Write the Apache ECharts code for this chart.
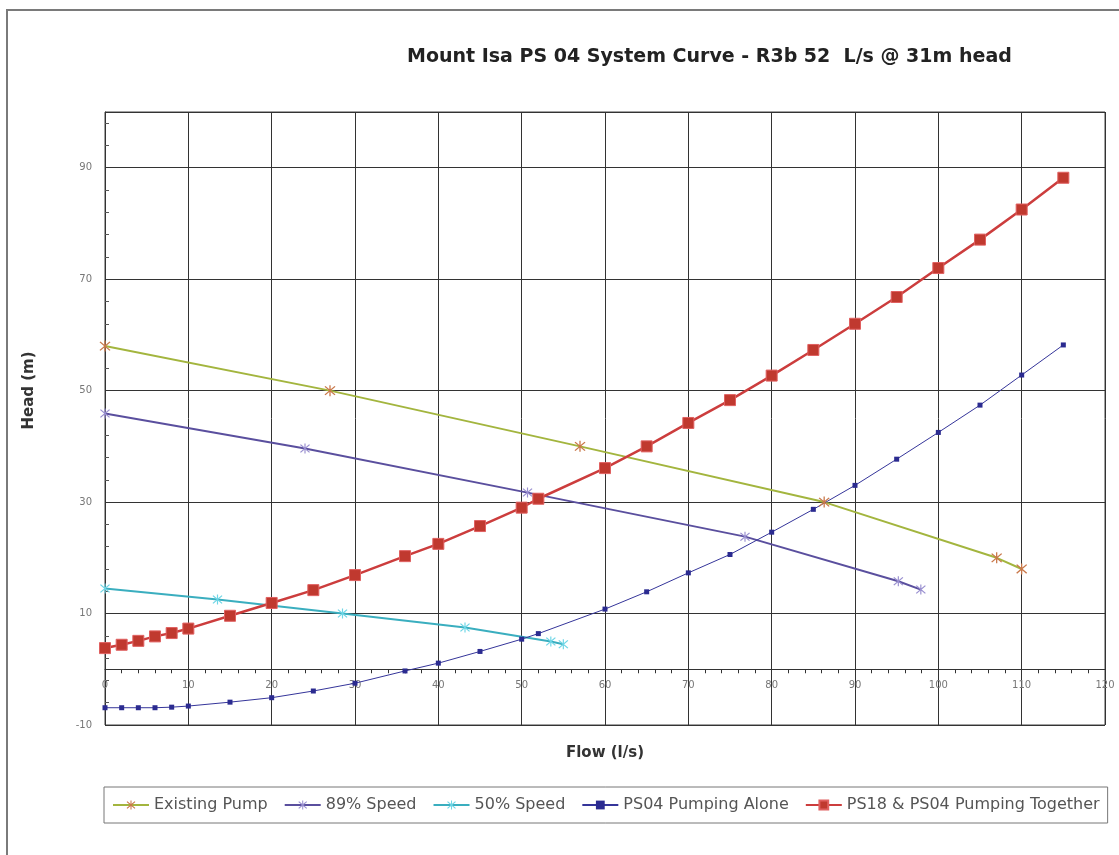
<!DOCTYPE html>
<html>
<head>
<meta charset="utf-8">
<script src="https://cdn.jsdelivr.net/npm/echarts@6/dist/echarts.min.js"></script>
<style>
html,body{margin:0;padding:0;background:#fff;}
#chart{width:1119px;height:855px;}
</style>
</head>
<body>
<div id="chart"></div>
<script>
// ---- data ----
const existingFlow = [0, 27, 57, 86.3, 107, 110];
const existingHead = [58, 50, 40, 30, 20, 18];
const speed89Flow = [0, 24, 50.7, 76.8, 95.2, 97.9];
const speed89Head = [45.9, 39.6, 31.7, 23.8, 15.8, 14.3];
const speed50Flow = [0, 13.5, 28.5, 43.2, 53.5, 55];
const speed50Head = [14.5, 12.5, 10, 7.5, 5, 4.5];
const systemFlow = [0, 2, 4, 6, 8, 10, 15, 20, 25, 30, 36, 40, 45, 50, 52, 60, 65, 70, 75, 80, 85, 90, 95, 100, 105, 110, 115];
const aloneHead = [-6.9, -6.9, -6.9, -6.9, -6.8, -6.6, -5.9, -5.1, -3.9, -2.5, -0.3, 1.1, 3.2, 5.4, 6.4, 10.8, 13.9, 17.3, 20.6, 24.6, 28.7, 33.0, 37.7, 42.5, 47.4, 52.8, 58.2];
const togetherHead = [3.8, 4.4, 5.1, 5.9, 6.5, 7.3, 9.6, 11.9, 14.2, 16.9, 20.3, 22.5, 25.7, 29.0, 30.6, 36.1, 40.0, 44.2, 48.3, 52.7, 57.3, 62.0, 66.8, 72.0, 77.1, 82.5, 88.2];
const seriesNames = ['Existing Pump', '89% Speed', '50% Speed', 'PS04 Pumping Alone', 'PS18 & PS04 Pumping Together'];
const titleText = 'Mount Isa PS 04 System Curve - R3b 52  L/s @ 31m head';
const xName = 'Flow (l/s)';
const yName = 'Head (m)';

const pairs = (xs, ys) => xs.map((x, i) => [x, ys[i]]);
const star = 'path://M9 0H11V20H9Z M1.5 3L3 1.5L18.5 17L17 18.5Z M17 1.5L18.5 3L3 18.5L1.5 17Z';
const FONT = 'DejaVu Sans';

const chart = echarts.init(document.getElementById('chart'), null, {renderer: 'canvas'});
chart.setOption({
  animation: false,
  backgroundColor: '#ffffff',
  title: {
    text: titleText,
    left: 402, top: 43,
    textStyle: {fontFamily: FONT, fontSize: 19, fontWeight: 'bold', color: '#222'}
  },
  graphic: [{
    type: 'rect', silent: true,
    shape: {x: 7, y: 10, width: 1200, height: 900},
    style: {fill: null, stroke: '#7a7a7a', lineWidth: 2}
  }],
  grid: {left: 105, right: 14, top: 112, bottom: 130, show: true, borderColor: '#444', borderWidth: 1, backgroundColor: 'transparent'},
  legend: {
    data: seriesNames,
    left: 104, top: 787,
    padding: [10, 8, 10, 8],
    itemGap: 16, itemWidth: 36, itemHeight: 11,
    borderColor: '#777', borderWidth: 1,
    textStyle: {fontFamily: FONT, fontSize: 16, color: '#555'}
  },
  xAxis: {
    type: 'value', min: 0, max: 120, interval: 10,
    name: xName, nameLocation: 'middle', nameGap: 21,
    nameTextStyle: {fontFamily: FONT, fontSize: 15, fontWeight: 'bold', color: '#333'},
    axisLine: {onZero: true, lineStyle: {color: '#333', width: 1}},
    axisTick: {show: true, length: 5, lineStyle: {color: '#333'}},
    minorTick: {show: true, splitNumber: 5, length: 4, lineStyle: {color: '#333'}},
    axisLabel: {fontFamily: FONT, fontSize: 10, color: '#777', margin: -45},
    splitLine: {show: true, lineStyle: {color: '#333', width: 1}}
  },
  yAxis: {
    type: 'value', min: -10, max: 100, interval: 20,
    name: yName, nameLocation: 'middle', nameGap: 68,
    nameTextStyle: {fontFamily: FONT, fontSize: 15, fontWeight: 'bold', color: '#333', padding: [0, 0, 0, 56]},
    axisLine: {show: true, onZero: false, lineStyle: {color: '#333', width: 1}},
    axisTick: {show: true, inside: true, length: 5, lineStyle: {color: '#333'}},
    minorTick: {show: true, splitNumber: 5, length: 4, lineStyle: {color: '#555'}},
    axisLabel: {fontFamily: FONT, fontSize: 10, color: '#777', margin: 13, showMaxLabel: false},
    splitLine: {show: true, lineStyle: {color: '#333', width: 1}}
  },
  series: [
    {
      name: seriesNames[0], type: 'line', data: pairs(existingFlow, existingHead),
      symbol: star, symbolSize: 11, showAllSymbol: true,
      lineStyle: {color: '#a3b53e', width: 2},
      itemStyle: {color: '#c9784a'}
    },
    {
      name: seriesNames[1], type: 'line', data: pairs(speed89Flow, speed89Head),
      symbol: star, symbolSize: 10,
      lineStyle: {color: '#5a4f9e', width: 2},
      itemStyle: {color: '#9a90d0'}
    },
    {
      name: seriesNames[2], type: 'line', data: pairs(speed50Flow, speed50Head),
      symbol: star, symbolSize: 10,
      lineStyle: {color: '#3aaebf', width: 2},
      itemStyle: {color: '#6fd6e6'}
    },
    {
      name: seriesNames[3], type: 'line', data: pairs(systemFlow, aloneHead),
      symbol: 'rect', symbolSize: 5, showAllSymbol: true,
      lineStyle: {color: '#35359a', width: 1},
      itemStyle: {color: '#2b2b90'}
    },
    {
      name: seriesNames[4], type: 'line', data: pairs(systemFlow, togetherHead),
      symbol: 'rect', symbolSize: 11, showAllSymbol: true,
      lineStyle: {color: '#cc3d3d', width: 2.5},
      itemStyle: {color: '#c0392f', borderColor: '#e06060', borderWidth: 1}
    }
  ]
});
</script>
</body>
</html>
